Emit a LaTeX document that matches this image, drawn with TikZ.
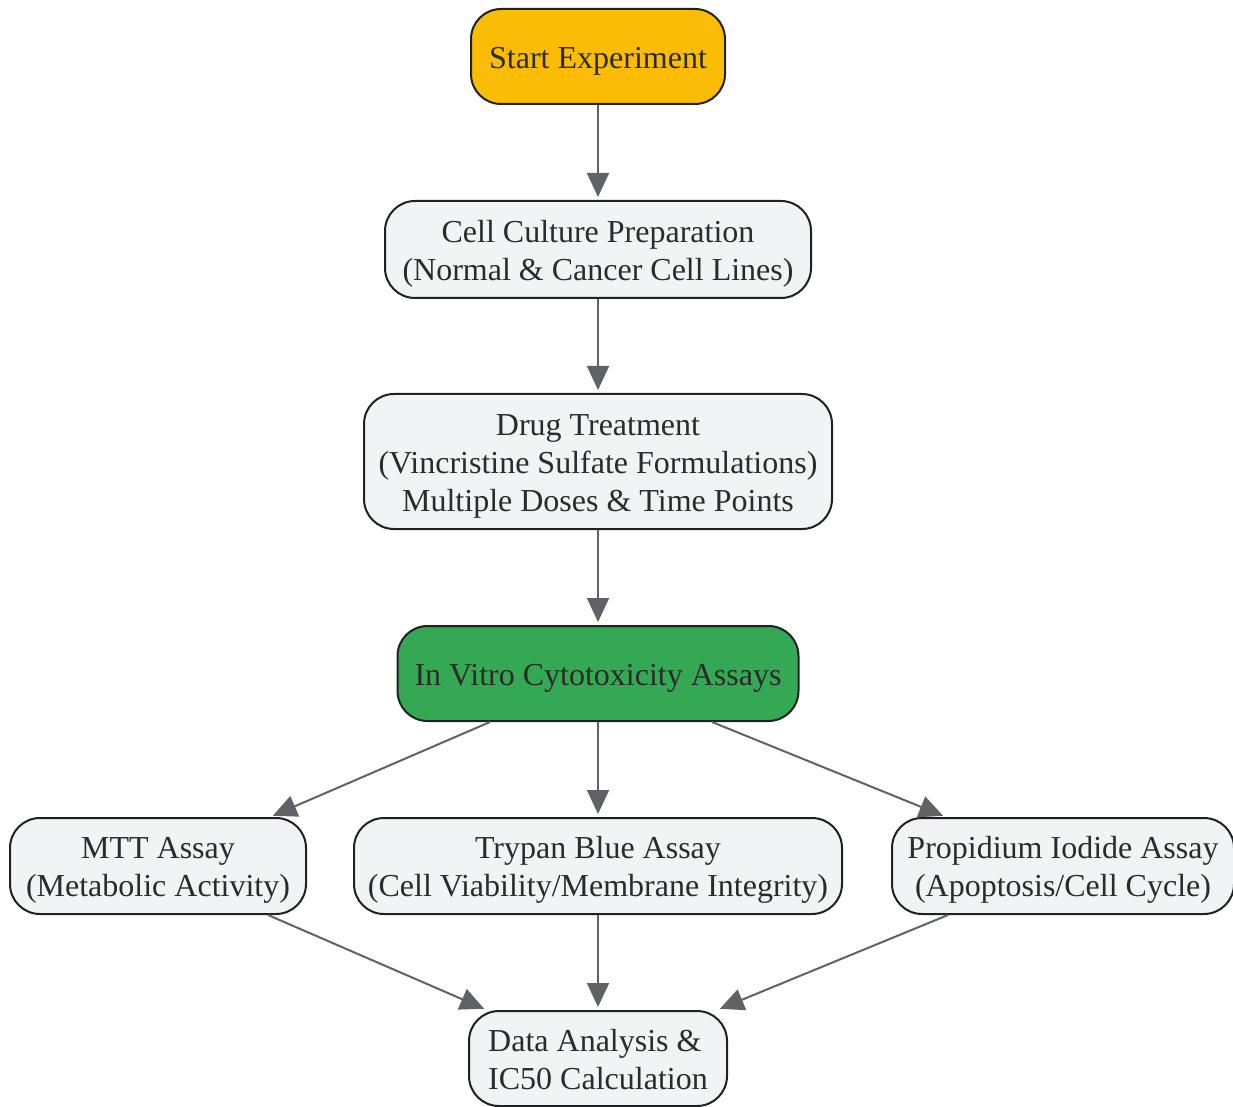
\documentclass[tikz,border=0pt]{standalone}
\usepackage{fontspec}
\setmainfont{Liberation Serif}
\usetikzlibrary{arrows.meta}
\definecolor{boxfill}{HTML}{F1F3F4}
\definecolor{startfill}{HTML}{FBBC05}
\definecolor{assayfill}{HTML}{34A853}
\definecolor{rim}{HTML}{202124}
\definecolor{ink}{HTML}{2B2B2B}
\definecolor{arrowgray}{HTML}{5F6368}
\newcommand{\lines}[2][c]{\raisebox{-2pt}[\height][\depth]{\begin{tabular}{@{}#1@{}}#2\end{tabular}}}
\tikzset{box/.style={rectangle,rounded corners=15pt,draw=rim,line width=1pt,fill=boxfill,text=ink,inner sep=0pt,font=\fontsize{16}{19}\selectfont}}
\tikzset{arr/.style={draw=arrowgray,line width=1pt,shorten >=1.5pt,-{Triangle[length=12pt,width=11pt]}}}

\begin{document}
\begin{tikzpicture}[x=0.5pt,y=-0.5pt]
      \useasboundingbox (0,0) rectangle (1233,1107);
      \node[box,fill=startfill,minimum width=127pt,minimum height=47.5pt] (start) at (598,56.5) {\lines{Start Experiment}};
      \node[box,minimum width=213pt,minimum height=48.5pt] (cell) at (598,249.5) {\lines{Cell Culture Preparation\\(Normal \& Cancer Cell Lines)}};
      \node[box,minimum width=234pt,minimum height=67.5pt] (drug) at (598,461.5) {\lines{Drug Treatment\\(Vincristine Sulfate Formulations)\\Multiple Doses \& Time Points}};
      \node[box,fill=assayfill,minimum width=200.5pt,minimum height=47.5pt] (vitro) at (598,673.5) {\lines{In Vitro Cytotoxicity Assays}};
      \node[box,minimum width=148pt,minimum height=48pt] (mtt) at (158,866) {\lines{MTT Assay\\(Metabolic Activity)}};
      \node[box,minimum width=244pt,minimum height=48pt] (trypan) at (598,866) {\lines{Trypan Blue Assay\\(Cell Viability/Membrane Integrity)}};
      \node[box,minimum width=171pt,minimum height=48pt] (pi) at (1063,866) {\lines{Propidium Iodide Assay\\(Apoptosis/Cell Cycle)}};
      \node[box,minimum width=129pt,minimum height=47.5pt] (data) at (598,1058.5) {\lines[l]{Data Analysis \&\\IC50 Calculation}};
      \draw[arr] (start) -- (cell);
      \draw[arr] (cell) -- (drug);
      \draw[arr] (drug) -- (vitro);
      \draw[arr] ([xshift=-54pt]vitro.south) -- ([xshift=56pt]mtt.north);
      \draw[arr] (vitro) -- (trypan);
      \draw[arr] ([xshift=57pt]vitro.south) -- ([xshift=-58.5pt]pi.north);
      \draw[arr] ([xshift=55pt]mtt.south) -- ([xshift=-55.5pt]data.north);
      \draw[arr] (trypan) -- (data);
      \draw[arr] ([xshift=-57.5pt]pi.south) -- ([xshift=59.5pt]data.north);
\end{tikzpicture}
\end{document}
